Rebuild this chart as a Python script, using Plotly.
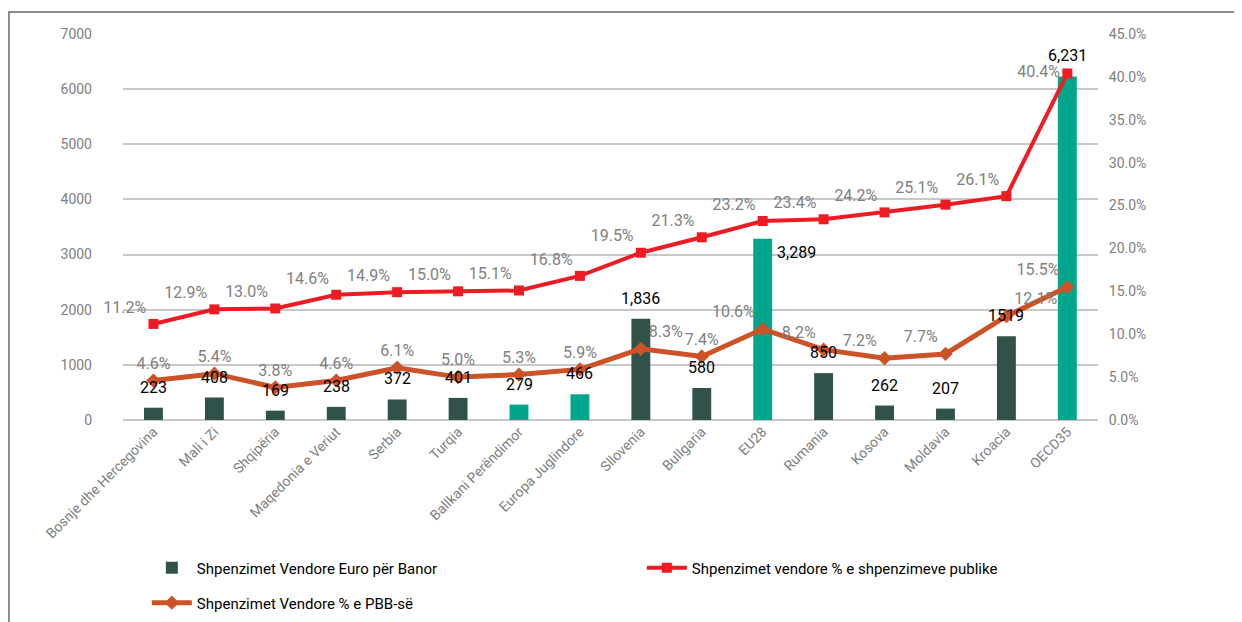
import plotly.graph_objects as go
from plotly.subplots import make_subplots

countries = [
    "Bosnje dhe Hercegovina", "Mali i Zi", "Shqipëria", "Maqedonia e Veriut",
    "Serbia", "Turqia", "Ballkani Perëndimor", "Europa Juglindore", "Sllovenia",
    "Bullgaria", "EU28", "Rumania", "Kosova", "Moldavia", "Kroacia", "OECD35",
]
euro_per_capita = [223, 408, 169, 238, 372, 401, 279, 466, 1836, 580, 3289, 850, 262, 207, 1519, 6231]
pct_public = [11.2, 12.9, 13.0, 14.6, 14.9, 15.0, 15.1, 16.8, 19.5, 21.3, 23.2, 23.4, 24.2, 25.1, 26.1, 40.4]
pct_gdp = [4.6, 5.4, 3.8, 4.6, 6.1, 5.0, 5.3, 5.9, 8.3, 7.4, 10.6, 8.2, 7.2, 7.7, 12.1, 15.5]
aggregates = ["Ballkani Perëndimor", "Europa Juglindore", "EU28", "OECD35"]
bar_labels = ["223", "408", "169", "238", "372", "401", "279", "466", "1,836",
              "580", "3,289", "850", "262", "207", "1519", "6,231"]

FONT = "Roboto, Liberation Sans Narrow, DejaVu Sans Condensed, sans-serif"
GREY = "#808080"

bar_colors = ["#00a68c" if c in aggregates else "#30524a" for c in countries]

# label placement as in the original chart
public_pos = ["top left"] * 15 + ["middle left"]
gdp_pos = ["top center"] * 8 + ["top right", "top center", "top left", "top left",
                                "top left", "top left", "top right", "top left"]

fig = make_subplots(specs=[[{"secondary_y": True}]])
fig.add_trace(go.Bar(
    x=countries, y=euro_per_capita, name="Shpenzimet Vendore Euro për Banor",
    marker=dict(color=bar_colors, line=dict(width=0)), legend="legend",
), secondary_y=False)
fig.add_trace(go.Scatter(
    x=countries, y=pct_public, name="Shpenzimet vendore % e shpenzimeve publike",
    mode="lines+markers+text", text=[f"{v:.1f}%" for v in pct_public], cliponaxis=False,
    textposition=public_pos, textfont=dict(color=GREY, size=16, family=FONT),
    line=dict(color="#ed1c24", width=4), marker=dict(symbol="square", size=10, color="#ed1c24"),
    legend="legend",
), secondary_y=True)
fig.add_trace(go.Scatter(
    x=countries, y=pct_gdp, name="Shpenzimet Vendore % e PBB-së",
    mode="lines+markers+text", text=[f"{v:.1f}%" for v in pct_gdp], cliponaxis=False,
    textposition=gdp_pos, textfont=dict(color=GREY, size=16, family=FONT),
    line=dict(color="#cc5227", width=5), marker=dict(symbol="diamond", size=11, color="#cc5227"),
    legend="legend2",
), secondary_y=True)

# value labels for the bars
for c, v, t in zip(countries, euro_per_capita, bar_labels):
    if c == "EU28":
        fig.add_annotation(x=c, y=v, text=t, showarrow=False, xanchor="left", yanchor="top",
                           xshift=12, yshift=-2, font=dict(color="black", size=16, family=FONT))
    else:
        fig.add_annotation(x=c, y=v, text=t, showarrow=False, yanchor="bottom", yshift=9,
                           font=dict(color="black", size=16, family=FONT))

# outer frame
fig.add_shape(type="rect", xref="paper", yref="paper", x0=-0.110, x1=1.2, y0=-0.7, y1=1.057,
              line=dict(color="#8c8c8c", width=2), layer="below")

legend_style = dict(orientation="h", xanchor="left", yanchor="middle", entrywidth=440,
                    itemwidth=40, yref="container",
                    font=dict(color="black", size=15, family=FONT))
fig.update_layout(
    width=1234, height=614,
    margin=dict(l=115, r=82, t=26, b=202),
    plot_bgcolor="white", paper_bgcolor="white",
    bargap=0.69, showlegend=True,
    font=dict(family=FONT, color=GREY),
    legend=dict(x=0.023, y=0.088, **legend_style),
    legend2=dict(x=0.023, y=0.031, **legend_style),
)
fig.update_xaxes(tickangle=-45, tickfont=dict(size=14, color=GREY), showline=False,
                 ticks="", showgrid=False, range=[-0.5, 15.5], automargin=False)
fig.update_yaxes(range=[0, 7000], dtick=1000, showgrid=True, gridcolor="#c8c8c8", gridwidth=2,
                 zeroline=True, zerolinecolor="#c8c8c8", zerolinewidth=2, automargin=False,
                 tickfont=dict(size=14, color=GREY), ticklabelstandoff=30, secondary_y=False)
fig.update_yaxes(range=[0, 45], dtick=5, ticksuffix="%", tickformat=".1f", showgrid=False,
                 zeroline=False, tickfont=dict(size=14, color=GREY), ticklabelstandoff=10,
                 automargin=False, secondary_y=True)

fig.write_html("out.html")
